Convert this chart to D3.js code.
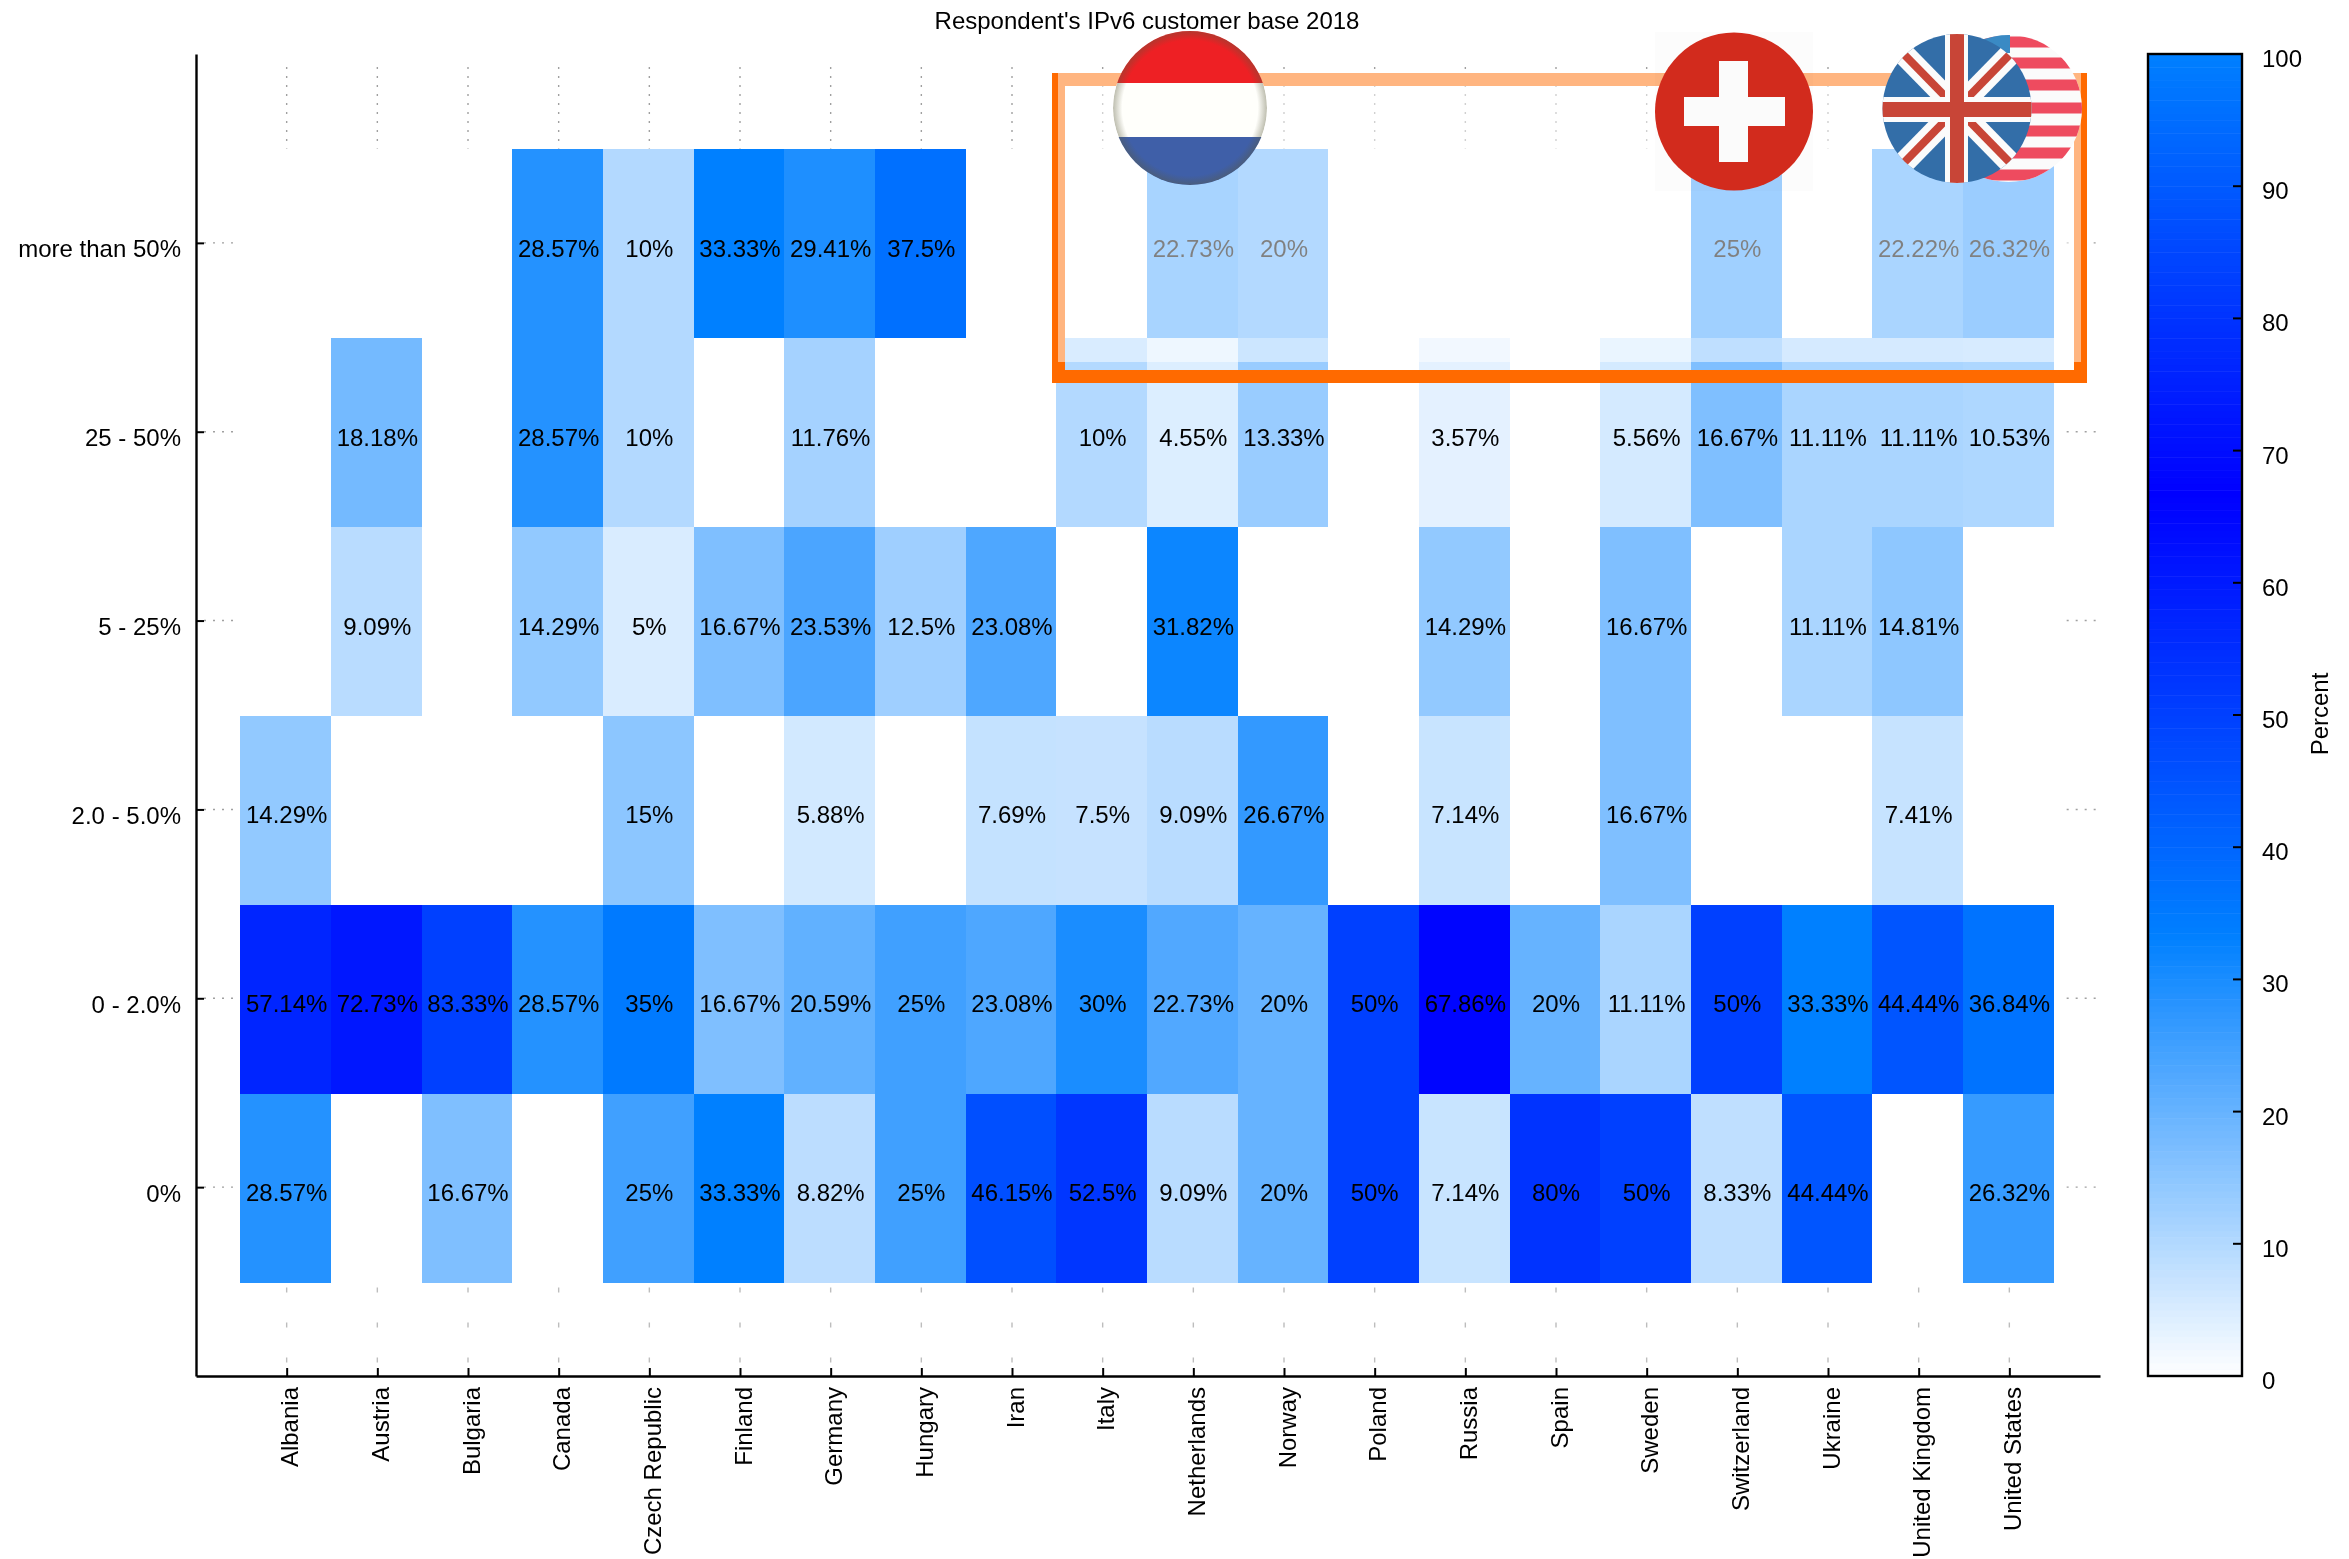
<!DOCTYPE html>
<html>
<head>
<meta charset="utf-8">
<script src="https://cdn.jsdelivr.net/npm/d3@7"></script>
<style>
  html, body { margin: 0; padding: 0; background: #fff; }
  svg { display: block; filter: blur(0.7px); }
  text { font-family: "Liberation Sans", Arial, sans-serif; font-size: 24px; fill: #000; }
</style>
</head>
<body>
<div id="chart"></div>
<script>
var countries = ["Albania", "Austria", "Bulgaria", "Canada", "Czech Republic", "Finland", "Germany", "Hungary", "Iran", "Italy",
  "Netherlands", "Norway", "Poland", "Russia", "Spain", "Sweden", "Switzerland", "Ukraine", "United Kingdom", "United States"];

// bottom row first, 0 means nobody answered that
var bandLabels = ["0%", "0 - 2.0%", "2.0 - 5.0%", "5 - 25%", "25 - 50%", "more than 50%"];
var row0 = [28.57, 0, 16.67, 0, 25, 33.33, 8.82, 25, 46.15, 52.5, 9.09, 20, 50, 7.14, 80, 50, 8.33, 44.44, 0, 26.32];
var row1 = [57.14, 72.73, 83.33, 28.57, 35, 16.67, 20.59, 25, 23.08, 30, 22.73, 20, 50, 67.86, 20, 11.11, 50, 33.33, 44.44, 36.84];
var row2 = [14.29, 0, 0, 0, 15, 0, 5.88, 0, 7.69, 7.5, 9.09, 26.67, 0, 7.14, 0, 16.67, 0, 0, 7.41, 0];
var row3 = [0, 9.09, 0, 14.29, 5, 16.67, 23.53, 12.5, 23.08, 0, 31.82, 0, 0, 14.29, 0, 16.67, 0, 11.11, 14.81, 0];
var row4 = [0, 18.18, 0, 28.57, 10, 0, 11.76, 0, 0, 10, 4.55, 13.33, 0, 3.57, 0, 5.56, 16.67, 11.11, 11.11, 10.53];
var row5 = [0, 0, 0, 28.57, 10, 33.33, 29.41, 37.5, 0, 0, 22.73, 20, 0, 0, 0, 0, 25, 0, 22.22, 26.32];
var rows = [row0, row1, row2, row3, row4, row5];

var paletteStops = [0, 100 / 3, 200 / 3, 100];
var paletteColors = ["#ffffff", "#0080ff", "#0000ff", "#0080ff"];
var cbTicks = [0, 10, 20, 30, 40, 50, 60, 70, 80, 90, 100];

var width = 2349, height = 1559;

var svg = d3.select("#chart").append("svg")
  .attr("width", width)
  .attr("height", height);

var x = d3.scaleLinear().domain([-1, 20]).range([196, 2100]);
var y = d3.scaleLinear().domain([-1, 6]).range([1376, 54]);
var color = d3.scaleLinear().domain(paletteStops).range(paletteColors);
var cbY = d3.scaleLinear().domain([0, 100]).range([1376, 54]);

svg.append("text")
  .attr("x", 1147)
  .attr("y", 29)
  .attr("text-anchor", "middle")
  .text("Respondent's IPv6 customer base 2018");

// dotted grid, only shows around the cells
var grid = svg.append("g")
  .attr("stroke", "#a0a0a0")
  .attr("stroke-width", 1.4)
  .attr("stroke-dasharray", "2 7");

grid.selectAll(".vtop").data(d3.range(20)).enter().append("line")
  .attr("x1", function(d) { return x(d); })
  .attr("x2", function(d) { return x(d); })
  .attr("y1", 67)
  .attr("y2", y(5.5));
grid.selectAll(".vbot").data(d3.range(20)).enter().append("line")
  .attr("x1", function(d) { return x(d); })
  .attr("x2", function(d) { return x(d); })
  .attr("y1", y(-0.5) + 6)
  .attr("y2", 1376)
  .attr("stroke", "#bdbdbd")
  .attr("stroke-dasharray", "5 30");
grid.selectAll(".hleft").data(d3.range(6)).enter().append("line")
  .attr("x1", 204)
  .attr("x2", x(-0.5))
  .attr("y1", function(d) { return y(d); })
  .attr("y2", function(d) { return y(d); });
grid.selectAll(".hright").data(d3.range(6)).enter().append("line")
  .attr("x1", x(19.5) + 12)
  .attr("x2", 2098)
  .attr("y1", function(d) { return y(d); })
  .attr("y2", function(d) { return y(d); });

var cells = [];
rows.forEach(function(r, j) {
  r.forEach(function(v, i) {
    cells.push({ i: i, j: j, value: v });
  });
});

svg.append("g").attr("transform", "translate(-1,1)")
  .selectAll("rect").data(cells).enter().append("rect")
  .attr("x", function(d) { return x(d.i - 0.5); })
  .attr("y", function(d) { return y(d.j + 0.5); })
  .attr("width", x(1) - x(0))
  .attr("height", y(0) - y(1))
  .attr("shape-rendering", "crispEdges")
  .attr("fill", function(d) { return color(d.value); });

svg.append("g").selectAll("text").data(cells.filter(function(d) { return d.value > 0; })).enter().append("text")
  .attr("x", function(d) { return x(d.i); })
  .attr("y", function(d) { return y(d.j) + 14; })
  .attr("text-anchor", "middle")
  .text(function(d) { return d.value + "%"; });

// axes, ticks point inward
var xAxis = d3.axisBottom(x)
  .tickValues(d3.range(20))
  .tickFormat(function(d) { return countries[d]; })
  .tickSizeInner(-8)
  .tickSizeOuter(0);
var yAxis = d3.axisLeft(y)
  .tickValues(d3.range(6))
  .tickFormat(function(d) { return bandLabels[d]; })
  .tickSizeInner(-8)
  .tickSizeOuter(0)
  .tickPadding(15);

var xG = svg.append("g").attr("transform", "translate(0,1376)").call(xAxis);
xG.selectAll("text")
  .attr("text-anchor", "end")
  .attr("dy", null)
  .attr("y", null)
  .attr("transform", "translate(11,11) rotate(-90)");
var yG = svg.append("g").attr("transform", "translate(196,0)").call(yAxis);
yG.selectAll("text").attr("dy", null).attr("y", 14);
svg.selectAll(".domain").attr("stroke", "#000").attr("stroke-width", 2.4);
svg.selectAll(".tick line").attr("stroke", "#000").attr("stroke-width", 2);
svg.selectAll(".tick text").style("font-size", "24px").style("font-family", "'Liberation Sans', Arial, sans-serif");

// colour bar
var cbLeft = 2148, cbRight = 2242;
svg.append("g").selectAll("rect").data(d3.range(0, 100, 0.5)).enter().append("rect")
  .attr("x", cbLeft)
  .attr("y", function(d) { return cbY(d + 0.5); })
  .attr("width", cbRight - cbLeft)
  .attr("height", cbY(0) - cbY(0.5) + 0.5)
  .attr("fill", function(d) { return color(d + 0.25); });
svg.append("rect")
  .attr("x", cbLeft)
  .attr("y", cbY(100))
  .attr("width", cbRight - cbLeft)
  .attr("height", cbY(0) - cbY(100))
  .attr("fill", "none")
  .attr("stroke", "#000")
  .attr("stroke-width", 2.4);
svg.append("g").selectAll("line").data(cbTicks.slice(1, -1)).enter().append("line")
  .attr("x1", cbRight - 9)
  .attr("x2", cbRight)
  .attr("y1", function(d) { return cbY(d); })
  .attr("y2", function(d) { return cbY(d); })
  .attr("stroke", "#000")
  .attr("stroke-width", 2);
svg.append("g").selectAll("text").data(cbTicks).enter().append("text")
  .attr("x", 2262)
  .attr("y", function(d) { return cbY(d) + 13; })
  .text(function(d) { return d; });
svg.append("text")
  .attr("transform", "translate(2328,714) rotate(-90)")
  .attr("text-anchor", "middle")
  .text("Percent");

// highlight box pasted over the chart, white veil washes out everything under it
svg.append("rect")
  .attr("x", 1058.5)
  .attr("y", 79.5)
  .attr("width", 1022)
  .attr("height", 297)
  .attr("fill", "none")
  .attr("stroke", "#ff6a00")
  .attr("stroke-width", 13);
svg.append("rect")
  .attr("x", 1058)
  .attr("y", 73)
  .attr("width", 1023)
  .attr("height", 289)
  .attr("fill", "#fff")
  .attr("fill-opacity", 0.5);

// flag badges
var defs = svg.append("defs");
var rim = defs.append("radialGradient").attr("id", "rim");
rim.append("stop").attr("offset", "88%").attr("stop-color", "#5a5a3c").attr("stop-opacity", 0);
rim.append("stop").attr("offset", "100%").attr("stop-color", "#5a5a3c").attr("stop-opacity", 0.4);

function badge(id, cx, cy, r) {
  defs.append("clipPath").attr("id", id).append("circle").attr("cx", cx).attr("cy", cy).attr("r", r);
  return svg.append("g").attr("clip-path", "url(#" + id + ")");
}
function band(g, x0, y0, w, h, fill) {
  g.append("rect").attr("x", x0).attr("y", y0).attr("width", w).attr("height", h).attr("fill", fill);
}

// Netherlands
var nl = badge("clip-nl", 1190, 108, 77);
band(nl, 1110, 28, 160, 55, "#ee2024");
band(nl, 1110, 83, 160, 54, "#fffffb");
band(nl, 1110, 137, 160, 50, "#3f5fa8");
nl.append("circle").attr("cx", 1190).attr("cy", 108).attr("r", 77).attr("fill", "url(#rim)");

// Switzerland
svg.append("rect").attr("x", 1655).attr("y", 32).attr("width", 158).attr("height", 159)
  .attr("fill", "#000").attr("fill-opacity", 0.012);
var ch = badge("clip-ch", 1734, 111.5, 79);
band(ch, 1650, 30, 170, 165, "#d22b1d");
band(ch, 1719, 61, 29, 101, "#fbfbfb");
band(ch, 1684, 97, 101, 29, "#fbfbfb");

// United States, mostly behind the UK one
var us = badge("clip-us", 2008.5, 108.5, 73.5);
band(us, 1930, 30, 160, 160, "#fbfbfb");
[42, 63, 85, 108, 131, 153, 175].forEach(function(c) {
  band(us, 1930, c - 5.5, 160, 11, "#ee4b5f");
});
band(us, 1930, 30, 80, 23, "#3a8ac4");

// United Kingdom
var uk = badge("clip-uk", 1957, 108.5, 74.5);
band(uk, 1880, 30, 155, 158, "#336ea8");
[[1890, 40, 2024, 177], [1890, 177, 2024, 40]].forEach(function(p) {
  uk.append("line").attr("x1", p[0]).attr("y1", p[1]).attr("x2", p[2]).attr("y2", p[3])
    .attr("stroke", "#fbfbfb").attr("stroke-width", 22);
  uk.append("line").attr("x1", p[0]).attr("y1", p[1]).attr("x2", p[2]).attr("y2", p[3])
    .attr("stroke", "#c84537").attr("stroke-width", 8);
});
band(uk, 1945, 30, 23, 158, "#fbfbfb");
band(uk, 1880, 97, 155, 25, "#fbfbfb");
band(uk, 1950, 30, 14, 158, "#c84537");
band(uk, 1880, 102, 155, 15, "#c84537");
</script>
</body>
</html>
